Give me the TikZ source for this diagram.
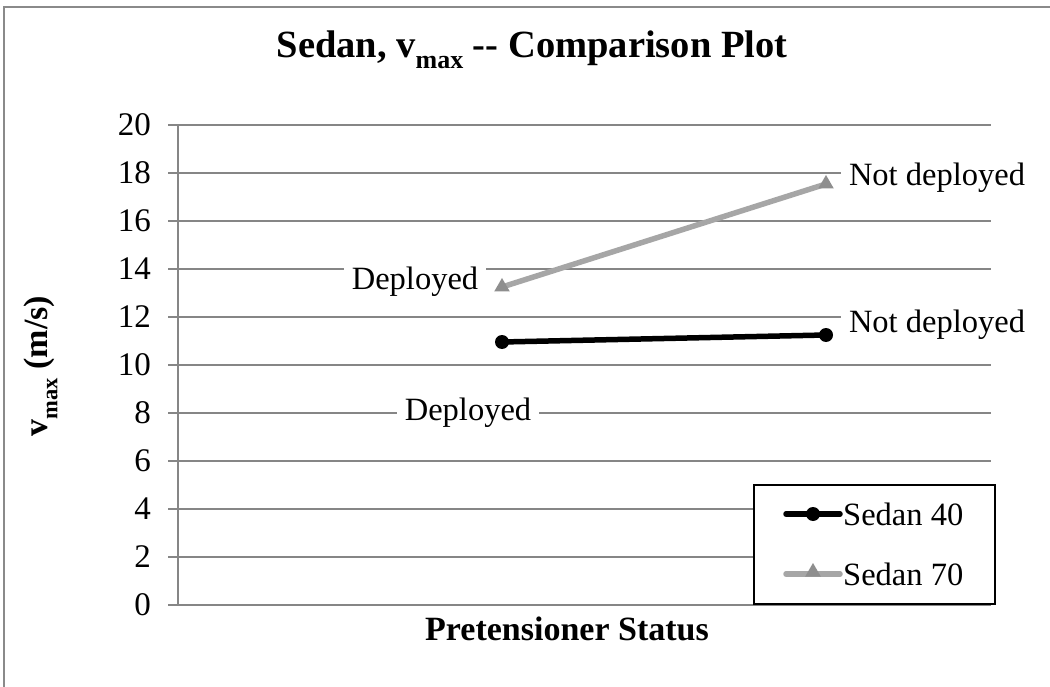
\documentclass[tikz,border=0pt]{standalone}
\usepackage{fontspec}
\setmainfont{Liberation Serif}
\usetikzlibrary{shapes.geometric}
\definecolor{gridgray}{HTML}{868686}
\definecolor{framegray}{HTML}{8A8A8A}
\definecolor{seventyline}{HTML}{A6A6A6}
\definecolor{seventymark}{HTML}{8E8E8E}
\newcommand{\sub}[2]{#1\raisebox{-0.28em}{\fontsize{#2}{#2}\selectfont max}}
\begin{document}
\begin{tikzpicture}[x=1pt,y=-1pt,
  gridline/.style={draw=gridgray, line width=1.6pt},
  axisline/.style={draw=gridgray, line width=1.6pt},
  ticklabel/.style={anchor=east, inner sep=0pt, font=\fontsize{33}{35}\selectfont},
  datalabel/.style={fill=white, inner xsep=8pt, inner ysep=2pt, font=\fontsize{32.5}{35}\selectfont},
  fortyline/.style={draw=black, line width=5.5pt},
  seventyln/.style={draw=seventyline, line width=5.5pt},
  fortymark/.style={circle, fill=black, inner sep=0pt, minimum size=14pt},
  seventymk/.style={regular polygon, regular polygon sides=3, fill=seventymark, inner sep=0pt, minimum size=18pt},
  legendbox/.style={draw=black, fill=white, line width=1.5pt, inner sep=0pt},
  legtext/.style={anchor=west, inner sep=0pt, font=\fontsize{32.5}{35}\selectfont}]
\useasboundingbox (0,0) rectangle (1050,687);
\clip (0,0) rectangle (1050,687);
% outer chart frame
\draw[framegray, line width=1.6pt, fill=white] (4,7) rectangle (1080,720);
% title
\node[font=\fontsize{38.5}{42}\selectfont\bfseries] (title) at (532,50) {Sedan, \sub{v}{26} -{}- Comparison Plot};
% horizontal gridlines
\foreach \v in {2,4,...,20}
  \draw[gridline] (168,{605-24*\v}) -- (991,{605-24*\v});
% axes
\draw[axisline] (178,125) -- (178,605);
\draw[axisline] (168,605) -- (991,605);
% tick labels
\foreach \v in {0,2,...,20}
  \node[ticklabel] at (151,{605-24*\v}) {\v};
% axis titles
\node[rotate=90, font=\fontsize{34}{36}\selectfont\bfseries] (ytitle) at (41,366) {\sub{v}{22.5} (m/s)};
\node[font=\fontsize{34}{36}\selectfont\bfseries] (xtitle) at (567,629) {Pretensioner Status};
% data points
\coordinate (s40a) at (502,342);
\coordinate (s40b) at (826,335);
\coordinate (s70a) at (502,287);
\coordinate (s70b) at (826,184);
% series lines
\draw[seventyln] (s70a) -- (s70b);
\draw[fortyline] (s40a) -- (s40b);
\node[seventymk] (m70a) at (s70a) {};
\node[seventymk] (m70b) at (s70b) {};
\node[fortymark] (m40a) at (s40a) {};
\node[fortymark] (m40b) at (s40b) {};
% data labels
\node[datalabel] (l70a) at (415,282) {Deployed};
\node[datalabel] (l70b) at (937,178) {Not deployed};
\node[datalabel] (l40a) at (468,413) {Deployed};
\node[datalabel] (l40b) at (937,325) {Not deployed};
% legend
\node[legendbox, minimum width=241pt, minimum height=119pt] (legend) at (874.5,544.5) {};
\coordinate (k40a) at (786,514);
\coordinate (k40b) at (840,514);
\coordinate (k70a) at (786,574);
\coordinate (k70b) at (840,574);
\draw[fortyline, line cap=round] (k40a) -- (k40b);
\node[fortymark] (km40) at (813,514) {};
\node[legtext] (lt40) at (843,514) {Sedan 40};
\draw[seventyln, line cap=round] (k70a) -- (k70b);
\node[seventymk] (km70) at (813,572) {};
\node[legtext] (lt70) at (843,574) {Sedan 70};
\end{tikzpicture}
\end{document}
